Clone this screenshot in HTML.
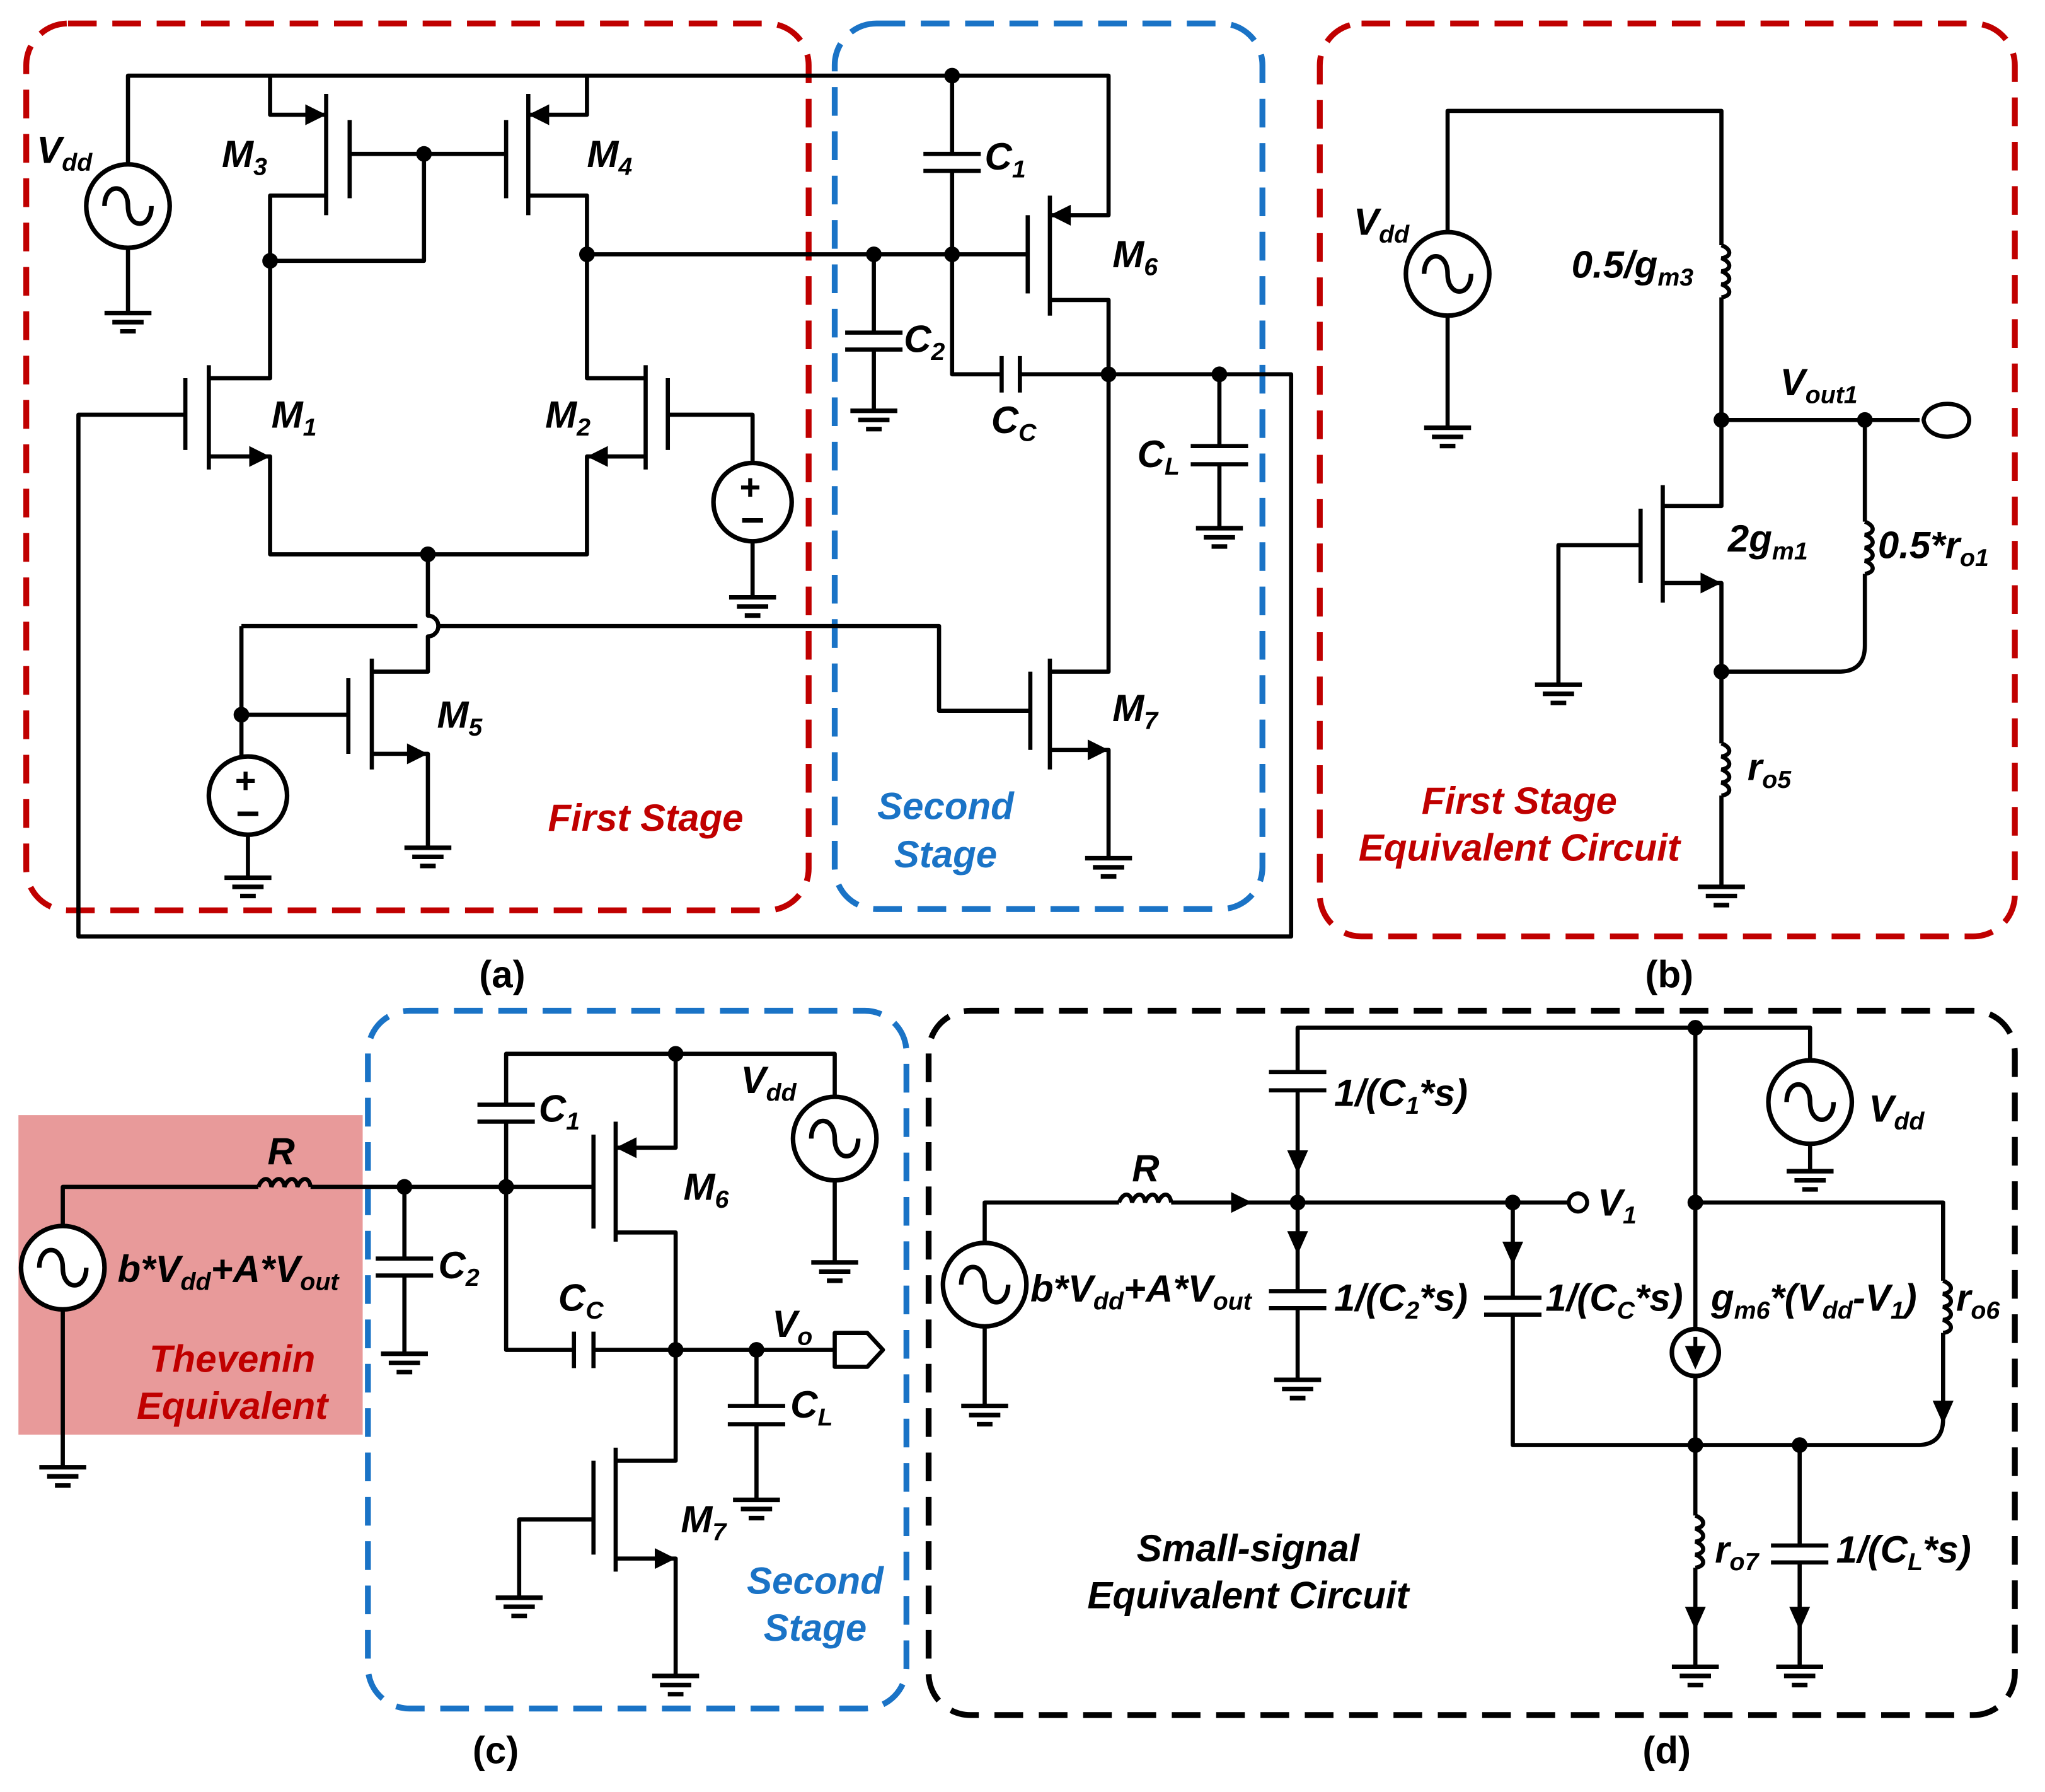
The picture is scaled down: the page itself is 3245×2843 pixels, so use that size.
<!DOCTYPE html>
<html><head><meta charset="utf-8"><style>
html,body{margin:0;padding:0;background:#fff}
svg{display:block}
text{font-family:"Liberation Sans",sans-serif;font-weight:bold;font-style:italic;font-size:29px;fill:#000}
.s{font-size:19px}
.r{fill:#c00000}.b{fill:#1a73c6}
.w{fill:none;stroke:#000;stroke-width:3.2;stroke-linejoin:round}
</style></head><body>
<svg width="3245" height="2843" viewBox="0 0 1568 1374" xmlns="http://www.w3.org/2000/svg">
<defs>
<g id="g"><line x1="-18" y1="0" x2="18" y2="0" stroke="#000" stroke-width="3.5"/><line x1="-12" y1="7" x2="12" y2="7" stroke="#000" stroke-width="3.5"/><line x1="-6" y1="14" x2="6" y2="14" stroke="#000" stroke-width="3.5"/></g>
<g id="ac"><circle r="32" fill="#fff" stroke="#000" stroke-width="3.5"/><path d="M-18,0 C-18,-18 0,-18 0,0 C0,18 18,18 18,0" fill="none" stroke="#000" stroke-width="3.5"/></g>
<g id="dc"><circle r="30" fill="#fff" stroke="#000" stroke-width="3.5"/><text x="-10" y="-2" style="font-style:normal;font-size:28px">+</text><line x1="-8" y1="14" x2="8" y2="14" stroke="#000" stroke-width="3.5"/></g>
<polygon id="ar" points="0,0 -16,-8 -16,8" fill="#000"/>
<polygon id="ad" points="0,0 -8,-18 8,-18" fill="#000"/>
<path id="resv" d="M0,0 c8,3 8,9 0,10 c8,3 8,9 0,10 c8,3 8,9 0,10 c8,3 8,9 0,10" fill="none" stroke="#000" stroke-width="3.2"/>
<path id="resh" d="M0,0 c3,-8 9,-8 10,0 c3,-8 9,-8 10,0 c3,-8 9,-8 10,0 c3,-8 9,-8 10,0" fill="none" stroke="#000" stroke-width="3.2"/>
</defs>

<rect x="20" y="18" width="600" height="680" rx="32" fill="none" stroke="#c00000" stroke-width="4.5" stroke-dasharray="22 12"/>
<rect x="640" y="18" width="328" height="679" rx="32" fill="none" stroke="#1a73c6" stroke-width="4.5" stroke-dasharray="22 12"/>
<rect x="1012" y="18" width="533" height="700" rx="32" fill="none" stroke="#c00000" stroke-width="4.5" stroke-dasharray="22 12"/>
<rect x="14" y="855" width="264" height="245" fill="#e89a9a"/>
<rect x="282" y="775" width="413" height="535" rx="32" fill="none" stroke="#1a73c6" stroke-width="4.5" stroke-dasharray="22 12"/>
<rect x="712" y="775" width="833" height="540" rx="32" fill="none" stroke="#000" stroke-width="4.5" stroke-dasharray="22 12"/>

<!-- ===== (a) ===== -->
<g class="w">
<path d="M98,126 V58 H850 V165 H805"/>
<path d="M98,190 V240"/>
<path d="M250,72 V165 M268,92 V152 M207,58 V88 H250 M250,150 H207 V200 H325 V118 M268,118 H388"/>
<path d="M405,72 V165 M388,92 V152 M450,58 V88 H405 M405,150 H450 V290 H495"/>
<path d="M450,195 H788"/>
<path d="M805,150 V242 M788,165 V225 M805,230 H850 V515 H805"/>
<path d="M730,58 V118 M708,118 H752 M708,131 H752 M730,131 V287 H768 M768,273 V301 M782,273 V301 M782,287 H990 V718 H60 V318 H142"/>
<path d="M670,195 V255 M648,255 H692 M648,268 H692 M670,268 V315"/>
<path d="M935,287 V342 M913,342 H957 M913,356 H957 M935,356 V405"/>
<path d="M142,290 V345 M160,280 V360 M160,290 H207 V200 M160,350 H207 V425 H450 V350 H495"/>
<path d="M495,280 V360 M512,290 V345 M512,318 H577 V355 M577,415 V458"/>
<path d="M328,425 V472 A8,8 0 0 1 328,488 V515 H285 M285,505 V590 M267,520 V578 M267,548 H185 M185,480 V580 M190,640 V673 M285,578 H328 V650"/>
<path d="M185,480 H320 M336,480 H720 V545 H790"/>
<path d="M790,515 V575 M805,505 V590 M805,575 H850 V658"/>
</g>
<use href="#ac" x="98" y="158"/><use href="#g" x="98" y="240"/>
<use href="#dc" x="577" y="385"/><use href="#g" x="577" y="458"/>
<use href="#dc" x="190" y="610"/><use href="#g" x="190" y="673"/>
<use href="#g" x="670" y="315"/><use href="#g" x="935" y="405"/><use href="#g" x="328" y="650"/><use href="#g" x="850" y="658"/>
<use href="#ar" x="250" y="88"/>
<use href="#ar" x="405" y="88" transform="rotate(180 405 88)"/>
<use href="#ar" x="805" y="165" transform="rotate(180 805 165)"/>
<use href="#ar" x="207" y="350"/>
<use href="#ar" x="450" y="350" transform="rotate(180 450 350)"/>
<use href="#ar" x="328" y="578"/>
<use href="#ar" x="850" y="575"/>
<g fill="#000">
<circle cx="207" cy="200" r="6"/><circle cx="325" cy="118" r="6"/><circle cx="450" cy="195" r="6"/><circle cx="670" cy="195" r="6"/><circle cx="730" cy="195" r="6"/><circle cx="730" cy="58" r="6"/><circle cx="850" cy="287" r="6"/><circle cx="935" cy="287" r="6"/><circle cx="328" cy="425" r="6"/><circle cx="185" cy="548" r="6"/>
</g>
<text x="28" y="125">V<tspan class="s" dy="6">dd</tspan></text>
<text x="170" y="128">M<tspan class="s" dy="6">3</tspan></text>
<text x="450" y="128">M<tspan class="s" dy="6">4</tspan></text>
<text x="208" y="328">M<tspan class="s" dy="6">1</tspan></text>
<text x="418" y="328">M<tspan class="s" dy="6">2</tspan></text>
<text x="335" y="558">M<tspan class="s" dy="6">5</tspan></text>
<text x="853" y="205">M<tspan class="s" dy="6">6</tspan></text>
<text x="853" y="553">M<tspan class="s" dy="6">7</tspan></text>
<text x="755" y="130">C<tspan class="s" dy="6">1</tspan></text>
<text x="693" y="270">C<tspan class="s" dy="6">2</tspan></text>
<text x="760" y="332">C<tspan class="s" dy="6">C</tspan></text>
<text x="872" y="358">C<tspan class="s" dy="6">L</tspan></text>
<text class="r" x="495" y="637" text-anchor="middle">First Stage</text>
<text class="b" x="725" y="628" text-anchor="middle">Second</text>
<text class="b" x="725" y="665" text-anchor="middle">Stage</text>
<text x="385" y="757" text-anchor="middle" style="font-style:normal">(a)</text>

<!-- ===== (b) ===== -->
<g class="w">
<path d="M1110,178 V85 H1320 V188 M1320,228 V388 H1275 M1320,322 H1472 M1110,242 V328"/>
<path d="M1275,372 V462 M1258,390 V447 M1258,418 H1195 V525 M1275,447 H1320 V570 M1320,610 V680"/>
<path d="M1430,322 V400 M1430,440 V495 Q1430,515 1410,515 H1320"/>
<path d="M1475,322 C1478,305 1510,306 1510,322 C1510,338 1478,340 1475,322 Z" fill="#fff"/>
</g>
<use href="#resv" x="1320" y="188"/><use href="#resv" x="1430" y="400"/><use href="#resv" x="1320" y="570"/>
<use href="#ac" x="1110" y="210"/><use href="#g" x="1110" y="328"/><use href="#g" x="1195" y="525"/><use href="#g" x="1320" y="680"/>
<use href="#ar" x="1320" y="447"/>
<g fill="#000"><circle cx="1320" cy="322" r="6"/><circle cx="1430" cy="322" r="6"/><circle cx="1320" cy="515" r="6"/></g>
<text x="1038" y="180">V<tspan class="s" dy="6">dd</tspan></text>
<text x="1205" y="213">0.5/g<tspan class="s" dy="6">m3</tspan></text>
<text x="1365" y="303">V<tspan class="s" dy="6">out1</tspan></text>
<text x="1325" y="423">2g<tspan class="s" dy="6">m1</tspan></text>
<text x="1440" y="428">0.5*r<tspan class="s" dy="6">o1</tspan></text>
<text x="1340" y="598">r<tspan class="s" dy="6">o5</tspan></text>
<text class="r" x="1165" y="624" text-anchor="middle">First Stage</text>
<text class="r" x="1165" y="660" text-anchor="middle">Equivalent Circuit</text>
<text x="1280" y="757" text-anchor="middle" style="font-style:normal">(b)</text>

<!-- ===== (c) ===== -->
<g class="w">
<path d="M48,940 V910 H198 M238,910 H455 M48,1004 V1125"/>
<path d="M310,910 V965 M288,965 H332 M288,978 H332 M310,978 V1038"/>
<path d="M388,910 V860 M366,860 H410 M366,847 H410 M388,847 V808 H640 V841 M640,905 V968"/>
<path d="M472,860 V952 M455,870 V942 M518,808 V880 H472 M472,945 H518 V1120 H472"/>
<path d="M388,910 V1035 H440 M440,1021 V1049 M455,1021 V1049 M455,1035 H640"/>
<path d="M640,1022 H665 L677,1035 L665,1048 H640 Z" fill="#fff"/>
<path d="M580,1035 V1078 M558,1078 H602 M558,1092 H602 M580,1092 V1150"/>
<path d="M472,1110 V1205 M455,1120 V1192 M455,1165 H398 V1225 M472,1195 H518 V1285"/>
</g>
<use href="#resh" x="198" y="910"/>
<use href="#ac" x="48" y="972"/><use href="#g" x="48" y="1125"/>
<use href="#ac" x="640" y="873"/><use href="#g" x="640" y="968"/>
<use href="#g" x="310" y="1038"/><use href="#g" x="580" y="1150"/><use href="#g" x="398" y="1225"/><use href="#g" x="518" y="1285"/>
<use href="#ar" x="472" y="880" transform="rotate(180 472 880)"/>
<use href="#ar" x="518" y="1195"/>
<g fill="#000"><circle cx="310" cy="910" r="6"/><circle cx="388" cy="910" r="6"/><circle cx="518" cy="808" r="6"/><circle cx="518" cy="1035" r="6"/><circle cx="580" cy="1035" r="6"/></g>
<text x="205" y="893">R</text>
<text x="90" y="983">b*V<tspan class="s" dy="6">dd</tspan><tspan dy="-6">+A*V</tspan><tspan class="s" dy="6">out</tspan></text>
<text class="r" x="178" y="1052" text-anchor="middle">Thevenin</text>
<text class="r" x="178" y="1088" text-anchor="middle">Equivalent</text>
<text x="413" y="860">C<tspan class="s" dy="6">1</tspan></text>
<text x="336" y="980">C<tspan class="s" dy="6">2</tspan></text>
<text x="428" y="1005">C<tspan class="s" dy="6">C</tspan></text>
<text x="524" y="920">M<tspan class="s" dy="6">6</tspan></text>
<text x="522" y="1175">M<tspan class="s" dy="6">7</tspan></text>
<text x="568" y="838">V<tspan class="s" dy="6">dd</tspan></text>
<text x="592" y="1025">V<tspan class="s" dy="6">o</tspan></text>
<text x="606" y="1087">C<tspan class="s" dy="6">L</tspan></text>
<text class="b" x="625" y="1222" text-anchor="middle">Second</text>
<text class="b" x="625" y="1258" text-anchor="middle">Stage</text>
<text x="380" y="1352" text-anchor="middle" style="font-style:normal">(c)</text>

<!-- ===== (d) ===== -->
<g class="w">
<path d="M755,953 V922 H858 M898,922 H1203 M755,1017 V1078"/>
<path d="M995,922 V836 M973,836 H1017 M973,822 H1017 M995,822 V788 H1388 V813 M1388,877 V898"/>
<path d="M995,922 V990 M973,990 H1017 M973,1003 H1017 M995,1003 V1058"/>
<path d="M1160,922 V995 M1138,995 H1182 M1138,1008 H1182 M1160,1008 V1108 H1470 Q1490,1108 1490,1088 V1022 M1490,982 V922 H1300"/>
<path d="M1300,788 V1019 M1300,1055 V1162 M1300,1202 V1278"/>
<path d="M1380,1108 V1185 M1358,1185 H1402 M1358,1198 H1402 M1380,1198 V1278"/>
</g>
<use href="#resh" x="858" y="922"/><use href="#resv" x="1490" y="982"/><use href="#resv" x="1300" y="1162"/>
<circle cx="1210" cy="922" r="7" fill="#fff" stroke="#000" stroke-width="3"/>
<circle cx="1300" cy="1037" r="18" fill="#fff" stroke="#000" stroke-width="3.5"/>
<path d="M1300,1025 V1047" stroke="#000" stroke-width="3"/><use href="#ad" x="1300" y="1050"/>
<use href="#ac" x="755" y="985"/><use href="#g" x="755" y="1078"/>
<use href="#ac" x="1388" y="845"/><use href="#g" x="1388" y="898"/>
<use href="#g" x="995" y="1058"/><use href="#g" x="1300" y="1278"/><use href="#g" x="1380" y="1278"/>
<use href="#ar" x="960" y="922"/>
<use href="#ad" x="995" y="900"/><use href="#ad" x="995" y="962"/><use href="#ad" x="1160" y="970"/>
<use href="#ad" x="1490" y="1092"/><use href="#ad" x="1300" y="1250"/><use href="#ad" x="1380" y="1250"/>
<g fill="#000"><circle cx="995" cy="922" r="6"/><circle cx="1160" cy="922" r="6"/><circle cx="1300" cy="788" r="6"/><circle cx="1300" cy="922" r="6"/><circle cx="1300" cy="1108" r="6"/><circle cx="1380" cy="1108" r="6"/></g>
<text x="868" y="906">R</text>
<text x="790" y="998">b*V<tspan class="s" dy="6">dd</tspan><tspan dy="-6">+A*V</tspan><tspan class="s" dy="6">out</tspan></text>
<text x="1023" y="848">1/(C<tspan class="s" dy="6">1</tspan><tspan dy="-6">*s)</tspan></text>
<text x="1023" y="1005">1/(C<tspan class="s" dy="6">2</tspan><tspan dy="-6">*s)</tspan></text>
<text x="1185" y="1005">1/(C<tspan class="s" dy="6">C</tspan><tspan dy="-6">*s)</tspan></text>
<text x="1312" y="1005">g<tspan class="s" dy="6">m6</tspan><tspan dy="-6">*(V</tspan><tspan class="s" dy="6">dd</tspan><tspan dy="-6">-V</tspan><tspan class="s" dy="6">1</tspan><tspan dy="-6">)</tspan></text>
<text x="1500" y="1005">r<tspan class="s" dy="6">o6</tspan></text>
<text x="1225" y="932">V<tspan class="s" dy="6">1</tspan></text>
<text x="1433" y="860">V<tspan class="s" dy="6">dd</tspan></text>
<text x="1315" y="1198">r<tspan class="s" dy="6">o7</tspan></text>
<text x="1408" y="1198">1/(C<tspan class="s" dy="6">L</tspan><tspan dy="-6">*s)</tspan></text>
<text x="957" y="1197" text-anchor="middle">Small-signal</text>
<text x="957" y="1233" text-anchor="middle">Equivalent Circuit</text>
<text x="1278" y="1352" text-anchor="middle" style="font-style:normal">(d)</text>
</svg>
</body></html>
